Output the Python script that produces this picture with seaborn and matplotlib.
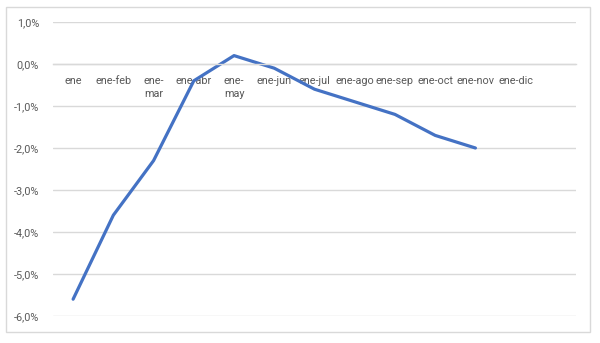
import matplotlib
matplotlib.use("Agg")
import matplotlib.pyplot as plt
import seaborn as sns
import pandas as pd
import numpy as np
from matplotlib.patches import Rectangle

categories = ["ene", "ene-feb", "ene-mar", "ene-abr", "ene-may", "ene-jun", "ene-jul",
              "ene-ago", "ene-sep", "ene-oct", "ene-nov", "ene-dic", ""]
tick_labels = ["ene", "ene-feb", "ene-\nmar", "ene-abr", "ene-\nmay", "ene-jun", "ene-jul",
               "ene-ago", "ene-sep", "ene-oct", "ene-nov", "ene-dic", ""]
values = [-5.6, -3.6, -2.3, -0.4, 0.2, -0.1, -0.6, -0.9, -1.2, -1.7, -2.0, np.nan, np.nan]
y_ticks = [1, 0, -1, -2, -3, -4, -5, -6]

sns.set_theme(style="white")
plt.rcParams['font.family'] = ['Roboto', 'DejaVu Sans']

df = pd.DataFrame({"x": np.arange(len(categories)), "v": values})

fig = plt.figure(figsize=(6.0, 3.43), dpi=100)
ax = fig.add_axes([53/600, 1 - 316/343, (576-53)/600, (316-22)/343])

fig.patches.append(Rectangle((6/600, 1 - 332/343), (590-6)/600, (332-7)/343,
                             transform=fig.transFigure, fill=False,
                             edgecolor="#D9D9D9", linewidth=1.0))

for t in y_ticks:
    ax.axhline(t, color="#D9D9D9", linewidth=1.0, zorder=0)

sns.lineplot(data=df, x="x", y="v", ax=ax, color="#4472C4", linewidth=2.3)

for s in ["top", "right", "left"]:
    ax.spines[s].set_visible(False)
ax.spines["bottom"].set_position(("data", 0))
ax.spines["bottom"].set_color("#D9D9D9")
ax.spines["bottom"].set_linewidth(1.0)

ax.set_xlim(-0.5, len(categories) - 0.5)
ax.set_ylim(-6, 1)
ax.set_yticks(y_ticks)
ax.set_yticklabels([f"{t:.1f}%".replace(".", ",") for t in y_ticks],
                   fontsize=7.8, color="#595959")
ax.set_xticks(df["x"])
ax.set_xticklabels(tick_labels, fontsize=7.8, color="#595959", va="top", linespacing=1.3)
ax.tick_params(axis="both", length=0)
ax.tick_params(axis="y", pad=10)
ax.tick_params(axis="x", pad=9)
ax.set_xlabel("")
ax.set_ylabel("")

fig.savefig("out.png", dpi=100)
